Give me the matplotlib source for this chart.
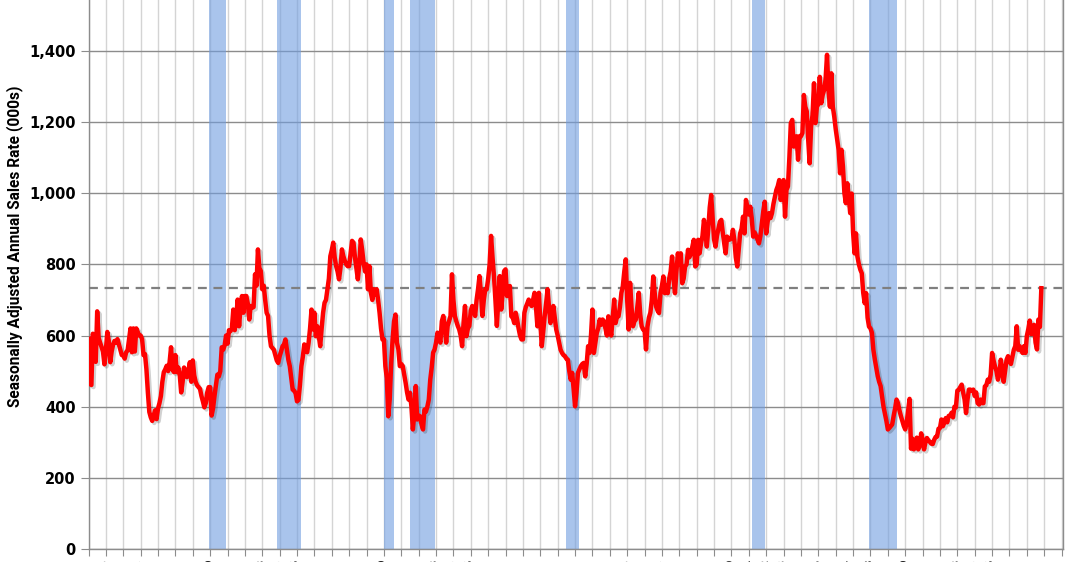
#!/usr/bin/env python3

import numpy as np
import matplotlib
matplotlib.use("Agg")
import matplotlib.pyplot as plt
import matplotlib.patheffects as pe
from matplotlib.ticker import FuncFormatter

# new home sales, monthly, seasonally adjusted annual rate (000s), Jan 1963 - Nov 2017
sales_60s = [
	591, 464, 461, 605, 586, 526, 668, 594, 580, 568, 555, 519,
	560, 610, 585, 525, 555, 575, 585, 580, 590, 575, 560, 545,
	545, 535, 553, 558, 590, 620, 553, 620, 555, 620, 610, 600,
	600, 590, 545, 548, 505, 440, 385, 370, 360, 375, 390, 365,
	395, 410, 430, 470, 497, 505, 515, 500, 525, 567, 505, 497,
	545, 497, 510, 490, 440, 470, 510, 500, 483, 500, 525, 470,
	530, 488, 470, 460, 455, 450, 430, 415, 398, 410, 440, 455,
]
sales_70s = [
	455, 375, 395, 430, 460, 490, 485, 500, 567, 560, 572, 600,
	577, 615, 612, 620, 673, 615, 650, 701, 626, 680, 711, 664,
	711, 711, 690, 645, 683, 678, 680, 772, 740, 842, 790, 781,
	730, 740, 700, 664, 655, 600, 570, 565, 560, 545, 530, 523,
	542, 555, 570, 575, 589, 560, 532, 514, 480, 448, 445, 438,
	415, 419, 460, 514, 540, 575, 560, 553, 580, 620, 673, 617,
	664, 598, 626, 600, 570, 620, 664, 692, 700, 730, 760, 823,
	840, 861, 820, 795, 780, 758, 790, 842, 823, 810, 800, 795,
	795, 830, 866, 861, 820, 790, 758, 800, 870, 840, 804, 780,
	800, 730, 795, 720, 700, 730, 715, 730, 700, 664, 620, 589,
]
sales_80s = [
	589, 514, 480, 373, 420, 520, 589, 640, 659, 580, 561, 514,
	520, 514, 490, 467, 440, 420, 439, 400, 336, 380, 458, 364,
	375, 373, 350, 336, 392, 386, 400, 420, 476, 510, 552, 561,
	580, 608, 595, 580, 640, 655, 627, 580, 627, 640, 655, 772,
	700, 655, 640, 627, 617, 600, 570, 636, 683, 598, 620, 627,
	670, 683, 673, 655, 700, 730, 767, 720, 655, 700, 730, 730,
	760, 800, 880, 820, 767, 700, 627, 700, 767, 673, 720, 781,
	786, 711, 730, 739, 654, 650, 635, 664, 645, 620, 600, 589,
	589, 664, 680, 690, 701, 690, 683, 700, 720, 680, 626, 720,
	640, 570, 610, 654, 690, 730, 680, 635, 660, 683, 650, 617,
]
sales_90s = [
	600, 580, 560, 551, 545, 542, 535, 532, 500, 476, 495, 450,
	401, 440, 495, 505, 514, 520, 523, 485, 520, 570, 551, 600,
	673, 551, 580, 607, 620, 645, 630, 645, 640, 620, 600, 654,
	620, 600, 650, 701, 635, 654, 654, 680, 720, 739, 780, 814,
	700, 617, 748, 680, 626, 640, 645, 680, 720, 660, 626, 617,
	615, 561, 625, 650, 664, 700, 766, 720, 681, 670, 663, 719,
	740, 766, 719, 740, 719, 760, 780, 822, 760, 719, 780, 831,
	800, 831, 747, 760, 794, 800, 841, 820, 830, 850, 869, 794,
	800, 869, 831, 859, 880, 925, 890, 850, 900, 960, 995, 930,
	870, 850, 880, 900, 920, 925, 890, 859, 831, 878, 869, 870,
]
sales_00s = [
	873, 897, 869, 820, 794, 840, 887, 900, 934, 887, 981, 962,
	940, 962, 930, 878, 890, 880, 870, 859, 880, 916, 950, 976,
	887, 920, 944, 930, 944, 970, 990, 1009, 1020, 1037, 981, 1000,
	1037, 934, 1009, 1019, 1100, 1197, 1206, 1131, 1140, 1160, 1094, 1160,
	1160, 1169, 1276, 1243, 1230, 1150, 1084, 1187, 1220, 1309, 1197, 1243,
	1250, 1327, 1253, 1276, 1290, 1320, 1389, 1290, 1243, 1337, 1243, 1215,
	1180, 1150, 1122, 1056, 1122, 1075, 1000, 972, 1028, 990, 944, 999,
	890, 831, 887, 822, 800, 785, 775, 720, 691, 719, 650, 625,
	620, 608, 560, 533, 510, 486, 470, 458, 430, 400, 380, 360,
	336, 340, 345, 350, 374, 395, 420, 410, 390, 374, 360, 346,
]
sales_10s = [
	336, 355, 389, 422, 282, 310, 280, 288, 313, 280, 290, 325,
	307, 280, 300, 312, 305, 301, 296, 295, 307, 315, 316, 338,
	340, 364, 345, 355, 368, 356, 374, 374, 383, 370, 400, 398,
	445, 448, 455, 462, 440, 420, 382, 420, 448, 448, 445, 448,
	430, 440, 410, 406, 420, 410, 410, 457, 460, 476, 470, 490,
	551, 530, 513, 500, 476, 490, 532, 504, 470, 500, 532, 542,
	530, 520, 540, 560, 570, 626, 560, 570, 560, 551, 570, 551,
	599, 618, 642, 604, 614, 630, 580, 561, 645, 624, 733,
]

# recessions (start, end) in decimal years
rec_start = [1969 + 11/12, 1973 + 10/12, 1980.0, 1981 + 6/12, 1990 + 6/12, 2001 + 2/12, 2007 + 11/12]
rec_end = [1970 + 11/12, 1975 + 3/12, 1980 + 7/12, 1982 + 11/12, 1991 + 3/12, 2001 + 11/12, 2009 + 6/12]

latest = 733
years = list(range(1963, 2020))

sales = np.array(sales_60s + sales_70s + sales_80s + sales_90s + sales_00s + sales_10s, dtype=float)
t = 1963 + np.arange(len(sales)) / 12.0

fig = plt.figure(figsize=(10.72, 5.62), dpi=100, facecolor='w')
ax = fig.add_axes([88.5/1072, 13/562, (1063 - 88.5)/1072, 549/562])

for a, b in zip(rec_start, rec_end):
	ax.axvspan(a, b, color='#709de0', alpha=0.6, lw=0, zorder=2)

ax.axhline(latest, color='#7f7f7f', ls=(0, (4, 3)), lw=1.6, zorder=3)

ax.plot(t, sales, color='#ff0000', lw=3.2, solid_joinstyle='round', zorder=4,
	path_effects=[pe.SimpleLineShadow(offset=(1.5, -1.5), alpha=0.18, shadow_color='k'), pe.Normal()])

ax.set_xlim(1963, 2019.08)
ax.set_ylim(0, 1543)

ax.set_yticks(np.arange(0, 1401, 200))
ax.yaxis.set_major_formatter(FuncFormatter(lambda v, p: f'{int(v):,}'))
ax.set_xticks(years)
# year labels sit below the visible area, as in the cropped original
ax.set_xticklabels([f'Jan-{y % 100:02d}' for y in years], rotation=90, fontsize=8, fontweight='bold')

ax.grid(axis='y', color='#8c8c8c', lw=1.0, zorder=1)
ax.grid(axis='x', color='#d4d4d4', lw=1.0, zorder=1)
ax.set_axisbelow(True)

for lbl in ax.get_yticklabels():
	lbl.set_fontweight('bold')
	lbl.set_fontsize(10.5)
ax.tick_params(axis='y', length=6, color='#8c8c8c', pad=3)
ax.tick_params(axis='x', length=5, color='#8c8c8c', pad=3)

ax.spines['top'].set_visible(False)
for s in ('left', 'bottom', 'right'):
	ax.spines[s].set_color('#8c8c8c')
	ax.spines[s].set_linewidth(1.0)

ax.set_ylabel('Seasonally Adjusted Annual Sales Rate (000s)', fontsize=11.2, fontweight='bold',
	family=['Roboto', 'DejaVu Sans'])
ax.yaxis.set_label_coords(-0.067, 0.552)

fig.savefig('out.png', dpi=100)
